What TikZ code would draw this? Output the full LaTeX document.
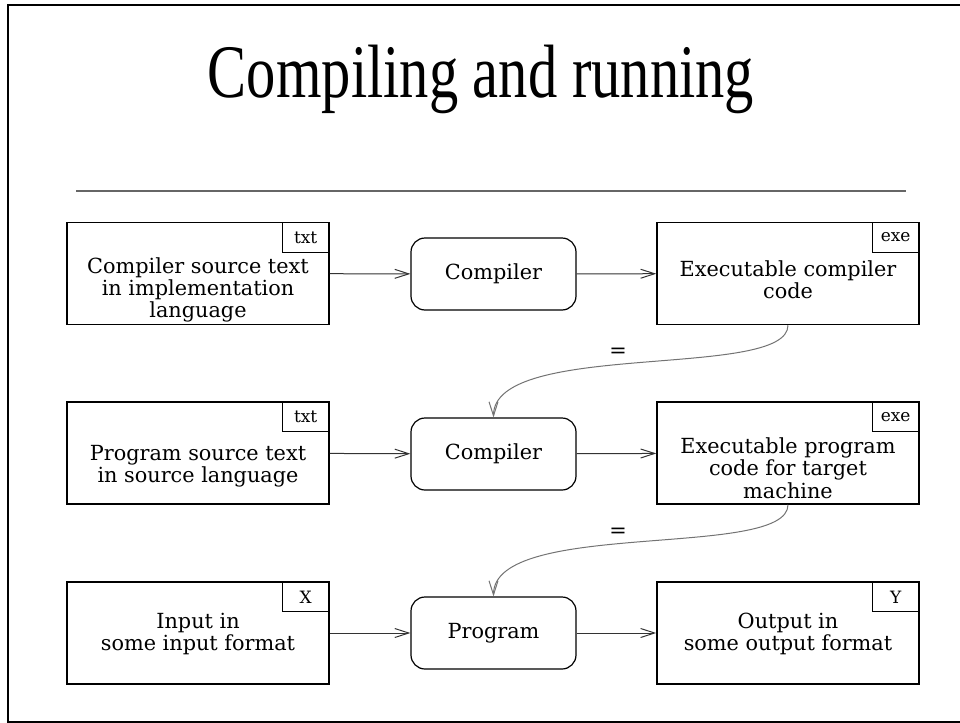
\documentclass[tikz,border=0pt]{standalone}
\usepackage{fontspec}
\setmainfont{Liberation Serif}
\newfontfamily\boxfont{DejaVu Serif}
\usetikzlibrary{arrows.meta}
\usetikzlibrary{positioning}

\begin{document}
\begin{tikzpicture}[x=0.5pt, y=-0.5pt]
	\tikzstyle{doc}=[draw, line width=0.75pt, minimum width=131pt, minimum height=51pt, inner sep=0pt];
	\tikzstyle{tag}=[draw, line width=0.6pt, anchor=north east, minimum width=23.5pt,
	                        minimum height=15pt, inner sep=0pt, font=\boxfont\fontsize{8.5}{9}\selectfont];
	\tikzstyle{tool}=[draw, line width=0.6pt, rounded corners=7pt, minimum width=82.5pt,
	                        minimum height=36pt, inner sep=0pt, font=\boxfont\fontsize{10.4}{9.6}\selectfont];
	\tikzstyle{txt}=[align=center, inner sep=0pt, font=\boxfont\fontsize{10.4}{9.6}\selectfont];
	\tikzstyle{flow}=[line width=0.5pt, black!80, -{Straight Barb[length=7pt, width=4.5pt]}];
	\tikzstyle{same}=[line width=0.5pt, black!55, -{Straight Barb[length=7pt, width=4.5pt]}];
	\useasboundingbox (0,0) rectangle (960,723);
	\draw[line width=1.4pt] (8,5) rectangle (970,722);
	% title
	\node (title) [anchor=base] at (481,97) {\scalebox{0.774}[1]{\fontsize{37.8}{40}\selectfont Compiling and running}};
	\draw[line width=1pt, black!60] (76,191) -- (906,191);
	% row 1
	\node (src1) [doc] at (198,273.5) {};
	\node (tag1) [tag] at (src1.north east) {txt};
	\node (src1t) [txt] at (198,290) {Compiler source text\\in implementation\\language};
	\node (comp1) [tool] at (493.5,274) {Compiler};
	\node (exe1) [doc] at (788,273.5) {};
	\node (tag2) [tag] at (exe1.north east) {exe};
	\node (exe1t) [txt] at (788,280) {Executable compiler\\code};
	% row 2
	\node (src2) [doc] at (198,453) {};
	\node (tag3) [tag] at (src2.north east) {txt};
	\node (src2t) [txt] at (198,466) {Program source text\\in source language};
	\node (comp2) [tool] at (493.5,454) {Compiler};
	\node (exe2) [doc] at (788,453) {};
	\node (tag4) [tag] at (exe2.north east) {exe};
	\node (exe2t) [txt] at (788,468) {Executable program\\code for target\\machine};
	% row 3
	\node (in) [doc] at (198,633) {};
	\node (tag5) [tag] at (in.north east) {X};
	\node (int) [txt] at (198,634) {Input in\\some input format};
	\node (prog) [tool] at (493.5,633) {Program};
	\node (out) [doc] at (788,633) {};
	\node (tag6) [tag] at (out.north east) {Y};
	\node (outt) [txt] at (788,634) {Output in\\some output format};
	% connectors
	\draw[flow] (src1) -- (comp1);
	\draw[flow] (comp1) -- (exe1);
	\draw[flow] (src2) -- (comp2);
	\draw[flow] (comp2) -- (exe2);
	\draw[flow] (in) -- (prog);
	\draw[flow] (prog) -- (out);
	\draw[same] (exe1.south) .. controls +(0,55) and +(0,-78) .. (comp2.north);
	\draw[same] (exe2.south) .. controls +(0,55) and +(0,-78) .. (prog.north);
	\node (eq1) [txt] at (618,353) {=};
	\node (eq2) [txt] at (618,533) {=};
\end{tikzpicture}
\end{document}
